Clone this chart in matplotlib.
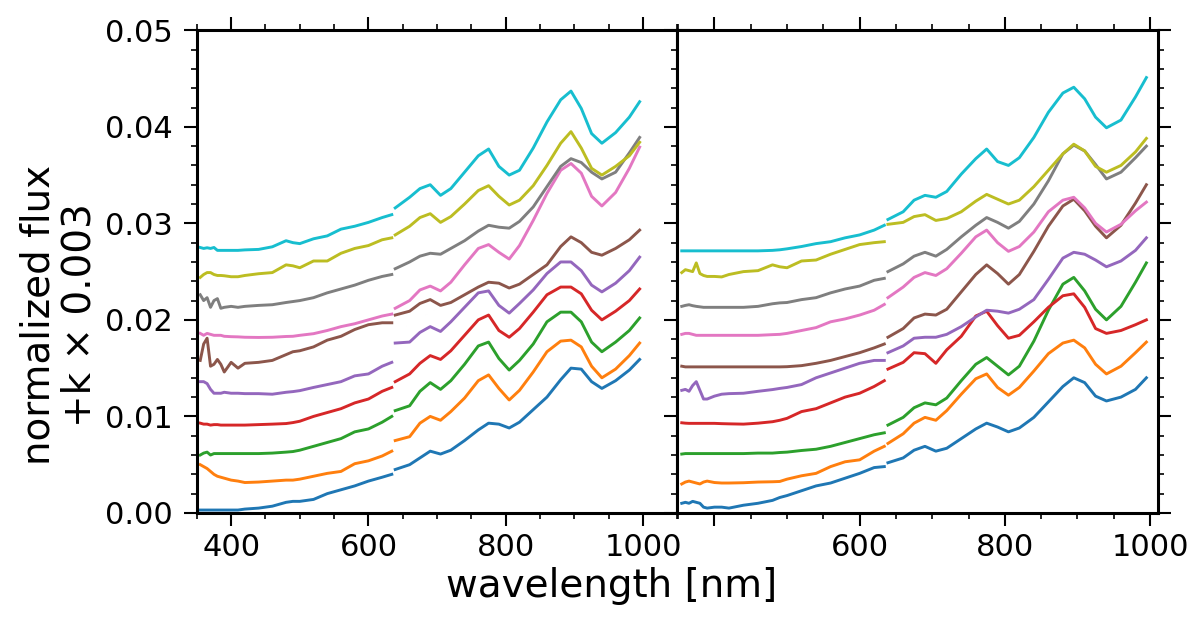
import matplotlib
matplotlib.use("Agg")
import matplotlib.pyplot as plt
from matplotlib.ticker import MultipleLocator

# wavelength grid of the two detector segments (nm)
wl_blue = [355, 360, 365, 370, 375, 380, 385, 390, 400, 410, 420, 440, 460,
           480, 490, 500, 520, 540, 560, 580, 600, 620, 634]
wl_red = [639, 660, 675, 690, 705, 720, 740, 760, 775, 790, 805, 820, 840,
          860, 880, 895, 910, 925, 940, 960, 980, 995]
offset = 0.003

# left panel, normalized flux (before the k*0.003 shift), k = 0..9
left_blue = [
    [.0003, .0003, .0003, .0003, .0003, .0003, .0003, .0003, .0003, .0003, .0004, .0005, .0007, .0011, .0012, .0012, .0014, .0020, .0024, .0028, .0033, .0037, .0040],
    [.0020, .0018, .0016, .0013, .0010, .0008, .0007, .0006, .0004, .0003, .00015, .0002, .0003, .0004, .0004, .0005, .0008, .0011, .0013, .0021, .0024, .0029, .0034],
    [.0000, .0002, .0003, .0000, .00015, .00015, .00015, .00015, .00015, .00015, .00015, .00015, .0002, .0003, .00036, .0005, .0009, .0013, .0017, .0024, .0027, .0034, .0040],
    [.0003, .0002, .0002, .0001, .00015, .00015, .0001, .0001, .0001, .0001, .0001, .00015, .0002, .00026, .00036, .0005, .0010, .0014, .0018, .0024, .0028, .0036, .0040],
    [.0016, .0016, .0014, .0008, .0004, .0004, .0004, .0005, .0004, .0004, .00036, .00036, .0003, .0005, .00057, .00067, .0010, .0013, .0016, .0022, .0024, .0032, .0036],
    [.0008, .0025, .0031, .0002, .0004, .0009, .0004, -.0004, .0006, .0000, .0005, .0006, .0008, .0014, .0017, .0018, .0022, .0029, .0033, .0040, .0045, .0047, .0047],
    [.0006, .0004, .0006, .0005, .0004, .0004, .0004, .0003, .00026, .00024, .0002, .00018, .0002, .00028, .0003, .0004, .00057, .0009, .0013, .0016, .0020, .0024, .0026],
    [.0016, .0010, .0013, .0003, .0010, .0012, .0002, .0003, .0004, .0003, .0004, .0005, .00057, .0008, .0009, .0010, .0013, .0018, .0022, .0026, .0031, .0035, .0037],
    [.0004, .0007, .0009, .0009, .0007, .0006, .0006, .00057, .00047, .00047, .0006, .00078, .0009, .0017, .0016, .0014, .0021, .0021, .0029, .0034, .0037, .0043, .0045],
    [.0005, .0004, .00047, .0004, .0005, .0002, .0002, .0002, .0002, .0002, .00025, .0003, .00057, .0012, .0010, .0009, .0014, .0017, .0024, .0027, .0031, .0036, .0039],
]
left_red = [
    [.0045, .0050, .0057, .0064, .0061, .0065, .0075, .0086, .0093, .0092, .0088, .0094, .0107, .0120, .0138, .0150, .0149, .0136, .0129, .0137, .0148, .0159],
    [.0045, .0049, .0063, .0070, .0066, .0075, .0089, .0107, .0113, .0099, .0087, .0097, .0116, .0137, .0148, .0149, .0142, .0122, .0110, .0119, .0133, .0146],
    [.0046, .0051, .0066, .0075, .0068, .0077, .0094, .0113, .0117, .0100, .0088, .0098, .0115, .0138, .0148, .0148, .0138, .0117, .0107, .0117, .0129, .0142],
    [.0046, .0054, .0065, .0073, .0069, .0078, .0094, .0110, .0115, .0099, .0092, .0101, .0118, .0136, .0144, .0144, .0137, .0120, .0110, .0119, .0130, .0142],
    [.0056, .0057, .0067, .0073, .0068, .0078, .0093, .0108, .0110, .0095, .0087, .0097, .0111, .0128, .0140, .0140, .0131, .0116, .0109, .0118, .0131, .0145],
    [.0055, .0059, .0067, .0071, .0065, .0068, .0076, .0084, .0089, .0088, .0083, .0087, .0097, .0107, .0126, .0136, .0130, .0120, .0117, .0124, .0133, .0143],
    [.0032, .0040, .0051, .0055, .0050, .0059, .0077, .0094, .0098, .0090, .0083, .0097, .0123, .0151, .0175, .0182, .0172, .0148, .0138, .0152, .0177, .0199],
    [.0043, .0050, .0056, .0059, .0058, .0064, .0072, .0082, .0088, .0086, .0085, .0092, .0107, .0128, .0149, .0157, .0153, .0143, .0136, .0143, .0163, .0179],
    [.0048, .0057, .0066, .0070, .0061, .0067, .0080, .0094, .0099, .0088, .0079, .0084, .0099, .0120, .0143, .0155, .0138, .0117, .0110, .0119, .0130, .0144],
    [.0046, .0057, .0066, .0070, .0059, .0066, .0083, .0100, .0107, .0089, .0080, .0085, .0108, .0135, .0158, .0167, .0149, .0123, .0113, .0124, .0140, .0156],
]

# right panel
right_blue = [
    [.0010, .0011, .0010, .0012, .0011, .0010, .0006, .0005, .0006, .0006, .0005, .0008, .0010, .0013, .0016, .0018, .0023, .0028, .0031, .0036, .0041, .0047, .0048],
    [.0000, .0002, .0003, .0002, .0001, .0000, .0002, .0003, .00015, .0001, .0001, .00013, .0002, .00023, .00026, .0005, .00085, .0011, .0018, .0023, .0025, .0034, .0039],
    [.0001, .00015, .00015, .00015, .00015, .00015, .00015, .00015, .00015, .00015, .00015, .00015, .0002, .0002, .00026, .0003, .00047, .0006, .0009, .0013, .0017, .0021, .0023],
    [.00034, .0003, .00028, .00028, .00028, .00028, .00028, .00028, .00028, .00025, .00023, .0002, .0003, .00045, .0006, .0008, .0015, .0018, .0024, .0030, .0034, .0041, .0047],
    [.0007, .0008, .0006, .0012, .0016, .0007, -.0002, -.0002, .0001, .0003, .00036, .0004, .0006, .00078, .0009, .0010, .0013, .0020, .0025, .0030, .0035, .0038, .0038],
    [.0002, .00013, .00013, .00013, .00013, .00013, .00013, .00013, .00013, .00013, .00013, .00013, .00013, .00013, .00013, .00015, .00026, .0005, .0008, .0012, .0016, .0021, .0025],
    [.0005, .0006, .0006, .0005, .0004, .0004, .0004, .0004, .0004, .0004, .0004, .0004, .0004, .00047, .0005, .0006, .0009, .0012, .0018, .0021, .0025, .0030, .0036],
    [.0004, .0005, .00057, .00047, .0004, .00035, .0003, .0003, .0003, .0003, .0003, .0003, .0004, .00067, .00076, .0008, .0011, .0013, .0018, .0022, .0025, .0031, .0033],
    [.0009, .0012, .0011, .0010, .0019, .0008, .0006, .0005, .0005, .00045, .0007, .0010, .0011, .0017, .0015, .0014, .0021, .0022, .0028, .0033, .0038, .0040, .0041],
    [.00015, .00015, .00015, .00015, .00015, .00015, .00015, .00015, .00015, .00015, .00015, .00015, .00015, .0002, .00026, .00036, .0006, .0009, .0011, .0015, .0018, .0023, .0028],
]
right_red = [
    [.0052, .0057, .0065, .0069, .0064, .0067, .0077, .0087, .0093, .0089, .0084, .0088, .0099, .0115, .0131, .0140, .0135, .0121, .0116, .0120, .0128, .0140],
    [.0042, .0052, .0063, .0069, .0066, .0076, .0093, .0109, .0114, .0100, .0092, .0100, .0117, .0135, .0146, .0149, .0141, .0124, .0114, .0122, .0136, .0147],
    [.0031, .0039, .0049, .0054, .0052, .0059, .0077, .0094, .0101, .0092, .0083, .0092, .0118, .0150, .0177, .0184, .0170, .0151, .0140, .0154, .0179, .0199],
    [.0059, .0066, .0076, .0075, .0065, .0079, .0093, .0114, .0119, .0104, .0091, .0094, .0108, .0123, .0135, .0137, .0123, .0101, .0096, .0099, .0105, .0110],
    [.0046, .0053, .0061, .0062, .0062, .0065, .0073, .0083, .0090, .0089, .0087, .0091, .0101, .0122, .0144, .0150, .0148, .0142, .0135, .0141, .0152, .0165],
    [.0032, .0041, .0052, .0056, .0055, .0061, .0079, .0097, .0107, .0098, .0087, .0097, .0121, .0147, .0168, .0175, .0163, .0147, .0135, .0148, .0171, .0190],
    [.0043, .0054, .0064, .0069, .0066, .0073, .0089, .0106, .0113, .0100, .0091, .0096, .0111, .0132, .0144, .0147, .0136, .0120, .0111, .0119, .0133, .0142],
    [.0040, .0048, .0056, .0060, .0056, .0063, .0076, .0088, .0096, .0091, .0085, .0092, .0110, .0134, .0162, .0171, .0165, .0151, .0136, .0143, .0158, .0170],
    [.0059, .0061, .0067, .0069, .0063, .0065, .0072, .0083, .0090, .0085, .0080, .0084, .0098, .0115, .0132, .0142, .0135, .0119, .0113, .0120, .0134, .0148],
    [.0034, .0042, .0054, .0059, .0057, .0063, .0081, .0097, .0107, .0094, .0090, .0098, .0119, .0145, .0165, .0171, .0159, .0140, .0129, .0137, .0161, .0181],
]

fig, (ax1, ax2) = plt.subplots(1, 2, sharey=True, figsize=(12, 6.18), dpi=100)
fig.subplots_adjust(left=0.164, right=0.965, top=0.951, bottom=0.170, wspace=0)

for ax, blue, red in ((ax1, left_blue, left_red), (ax2, right_blue, right_red)):
    for k in range(10):
        col = "C%d" % k
        ax.plot(wl_blue, [v + k * offset for v in blue[k]], color=col, lw=2.1,
                solid_joinstyle="round")
        ax.plot(wl_red, [v + k * offset for v in red[k]], color=col, lw=2.1,
                solid_joinstyle="round")
    ax.xaxis.set_major_locator(MultipleLocator(200))
    ax.xaxis.set_minor_locator(MultipleLocator(50))
    ax.yaxis.set_major_locator(MultipleLocator(0.01))
    ax.yaxis.set_minor_locator(MultipleLocator(0.002))
    ax.tick_params(which="both", direction="out", top=True, right=True, labelsize=22)
    ax.tick_params(which="major", length=9.5, width=1.5)
    ax.tick_params(which="minor", length=4.5, width=1.2)
    ax.tick_params(axis="y", which="major", pad=8)
    ax.tick_params(axis="x", which="major", pad=5)
    for s in ax.spines.values():
        s.set_linewidth(2.2)

ax1.set_ylim(0, 0.05)
ax1.set_xlim(350, 1050)
ax2.set_xlim(349, 1011)
ax2.set_xticks([400, 600, 800, 1000], ["", "600", "800", "1000"])

fig.text(0.51, 0.052, "wavelength [nm]", ha="center", va="center", fontsize=28)
fig.text(0.049, 0.49, "normalized flux\n+k \u00d7 0.003", rotation=90,
         ha="center", va="center", fontsize=28, linespacing=1.1,
         multialignment="center")

fig.savefig("out.png", dpi=100)
